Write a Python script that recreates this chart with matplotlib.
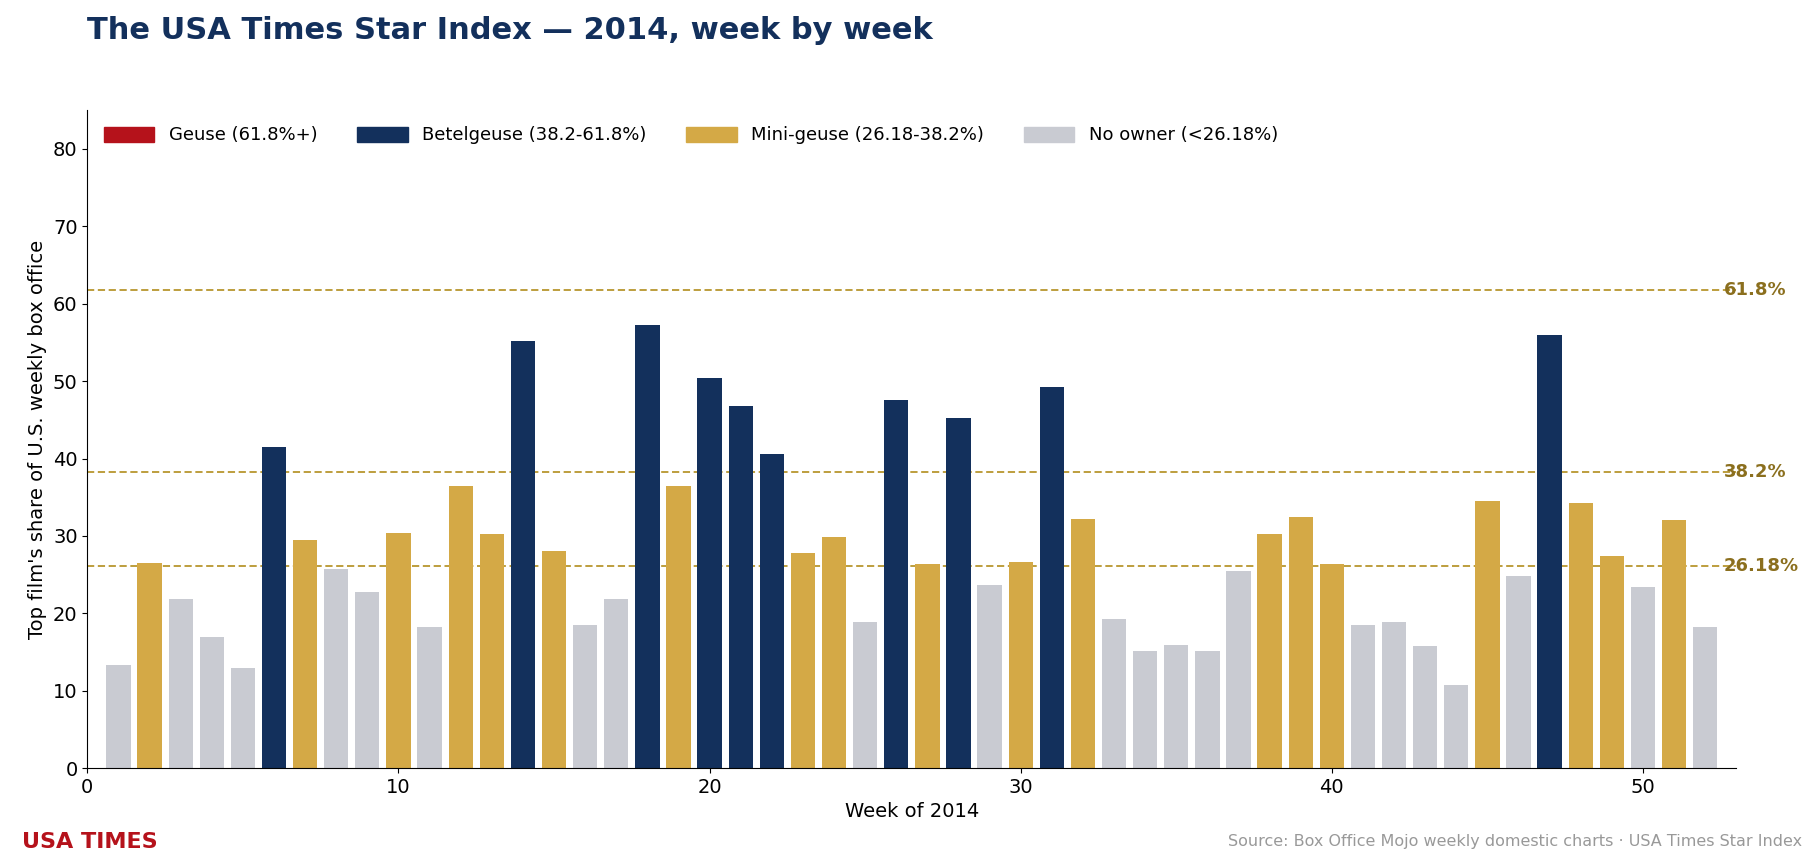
import matplotlib
matplotlib.use("Agg")
import matplotlib.pyplot as plt
from matplotlib.patches import Patch

weeks = list(range(1, 53))
shares = [13.3, 26.5, 21.8, 17.0, 13.0, 41.5, 29.5, 25.7, 22.8, 30.4,
          18.2, 36.5, 30.3, 55.2, 28.1, 18.5, 21.8, 57.2, 36.5, 50.4,
          46.8, 40.6, 27.8, 29.9, 18.9, 47.6, 26.4, 45.2, 23.7, 26.7,
          49.2, 32.2, 19.3, 15.1, 15.9, 15.2, 25.5, 30.3, 32.5, 26.4,
          18.5, 18.9, 15.8, 10.8, 34.5, 24.8, 56.0, 34.3, 27.4, 23.4,
          32.1, 18.2]
thresholds = [61.8, 38.2, 26.18]
threshold_labels = ["61.8%", "38.2%", "26.18%"]
legend_labels = ["Geuse (61.8%+)", "Betelgeuse (38.2-61.8%)",
                 "Mini-geuse (26.18-38.2%)", "No owner (<26.18%)"]

RED, NAVY, GOLD, GRAY = "#B5121B", "#13305C", "#D4A946", "#C9CBD2"

def color(v):
    if v >= 61.8: return RED
    if v >= 38.2: return NAVY
    if v >= 26.18: return GOLD
    return GRAY

fig = plt.figure(figsize=(18.2, 8.68), dpi=100)
ax = fig.add_axes([0.048, 0.115, 0.906, 0.758])
ax.bar(weeks, shares, width=0.78, color=[color(v) for v in shares], zorder=2)
for t, lab in zip(thresholds, threshold_labels):
    ax.axhline(t, color="#B8962E", linestyle=(0, (4, 2)), linewidth=1.3, zorder=1)
    ax.text(52.6, t, lab, color="#8B6F1E", fontsize=13, fontweight="bold",
            va="center", ha="left")
ax.set_xlim(0, 53)
ax.set_ylim(0, 85)
ax.set_xticks([0, 10, 20, 30, 40, 50])
ax.set_yticks(range(0, 81, 10))
ax.tick_params(labelsize=14)
ax.spines["top"].set_visible(False)
ax.spines["right"].set_visible(False)
ax.set_xlabel("Week of 2014", fontsize=14)
ax.set_ylabel("Top film's share of U.S. weekly box office", fontsize=14)
handles = [Patch(color=c) for c in [RED, NAVY, GOLD, GRAY]]
ax.legend(handles, legend_labels, loc="upper left", ncol=4, frameon=False,
          fontsize=13, handlelength=2.8, handleheight=0.9, columnspacing=2.2)
fig.text(0.048, 0.965, "The USA Times Star Index — 2014, week by week",
         fontsize=22, fontweight="bold", color="#13305C", va="center")
fig.text(0.012, 0.03, "USA TIMES", fontsize=16, fontweight="bold", color=RED, va="center")
fig.text(0.99, 0.03, "Source: Box Office Mojo weekly domestic charts · USA Times Star Index",
         fontsize=11.5, color="#999999", ha="right", va="center")
fig.savefig("out.png")
